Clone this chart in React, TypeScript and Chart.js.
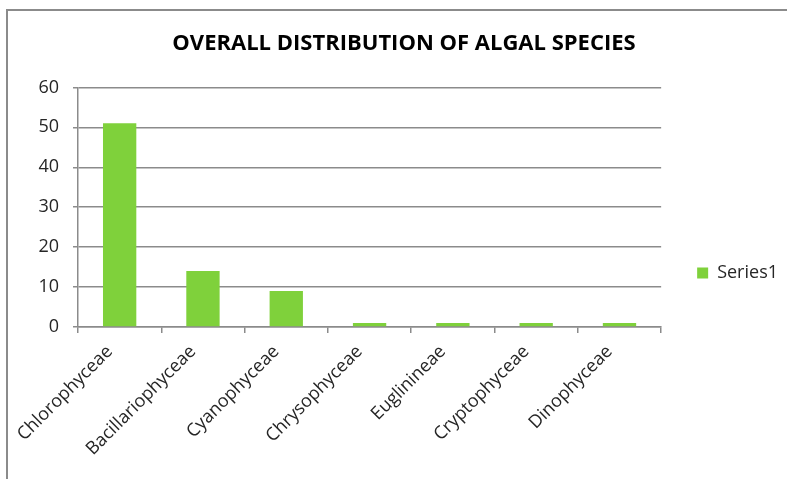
import { useEffect, useRef } from 'react';
import { Chart, registerables } from 'chart.js';

Chart.register(...registerables);

const TITLE = 'OVERALL DISTRIBUTION OF ALGAL SPECIES';
const categories = [
  'Chlorophyceae',
  'Bacillariophyceae',
  'Cyanophyceae',
  'Chrysophyceae',
  'Euglinineae',
  'Cryptophyceae',
  'Dinophyceae',
];
const series1 = [51, 14, 9, 1, 1, 1, 1];
const seriesName = 'Series1';
const yMin = 0;
const yMax = 60;
const yStep = 10;

const FONT = "'Open Sans', 'DejaVu Sans', sans-serif";
const GRID = '#8b8b8b';
const TEXT = '#262626';
const GREEN = '#7fd13b';

export default function App() {
  const ref = useRef<HTMLCanvasElement>(null);

  useEffect(() => {
    const chart = new Chart(ref.current as HTMLCanvasElement, {
      type: 'bar',
      data: {
        labels: categories,
        datasets: [
          {
            label: seriesName,
            data: series1,
            backgroundColor: GREEN,
            barPercentage: 0.4,
            categoryPercentage: 1,
          },
        ],
      },
      options: {
        animation: false,
        responsive: false,
        maintainAspectRatio: false,
        devicePixelRatio: 1,
        layout: { padding: { left: 20, right: 1, top: 0, bottom: 0 } },
        plugins: {
          title: {
            display: true,
            text: TITLE,
            color: '#000',
            font: { family: FONT, size: 22, weight: 'bold' },
            padding: { top: 31, bottom: 30 },
          },
          legend: {
            position: 'right',
            labels: {
              boxWidth: 11,
              boxHeight: 11,
              padding: 36,
              color: TEXT,
              font: { family: FONT, size: 18 },
            },
          },
          tooltip: { enabled: false },
        },
        scales: {
          x: {
            grid: {
              display: true,
              drawOnChartArea: false,
              drawTicks: true,
              tickLength: 6,
              color: GRID,
              lineWidth: 1.5,
              offset: true,
            },
            border: { color: GRID, width: 1.5 },
            ticks: {
              minRotation: 45,
              maxRotation: 45,
              autoSkip: false,
              color: TEXT,
              font: { family: FONT, size: 18 },
              padding: 8,
              labelOffset: -10,
            },
            afterFit: (s: any) => {
              s.height = 219;
            },
          },
          y: {
            min: yMin,
            max: yMax,
            ticks: {
              stepSize: yStep,
              padding: 14,
              color: TEXT,
              font: { family: FONT, size: 18 },
            },
            grid: { color: GRID, lineWidth: 1.5, tickLength: 5 },
            border: { color: GRID, width: 1.5 },
            afterFit: (s: any) => {
              s.width = 58;
            },
          },
        },
      },
    });
    return () => chart.destroy();
  }, []);

  return (
    <div
      style={{
        position: 'fixed',
        left: 0,
        top: 0,
        width: 787,
        height: 479,
        overflow: 'hidden',
        background: '#fff',
      }}
    >
      <div
        style={{
          position: 'absolute',
          left: 6,
          top: 9,
          width: 1000,
          height: 1000,
          borderLeft: `2px solid ${GRID}`,
          borderTop: `2px solid ${GRID}`,
        }}
      />
      <canvas
        ref={ref}
        width={789}
        height={546}
        style={{ position: 'absolute', left: 0, top: 0, width: 789, height: 546 }}
      />
    </div>
  );
}
